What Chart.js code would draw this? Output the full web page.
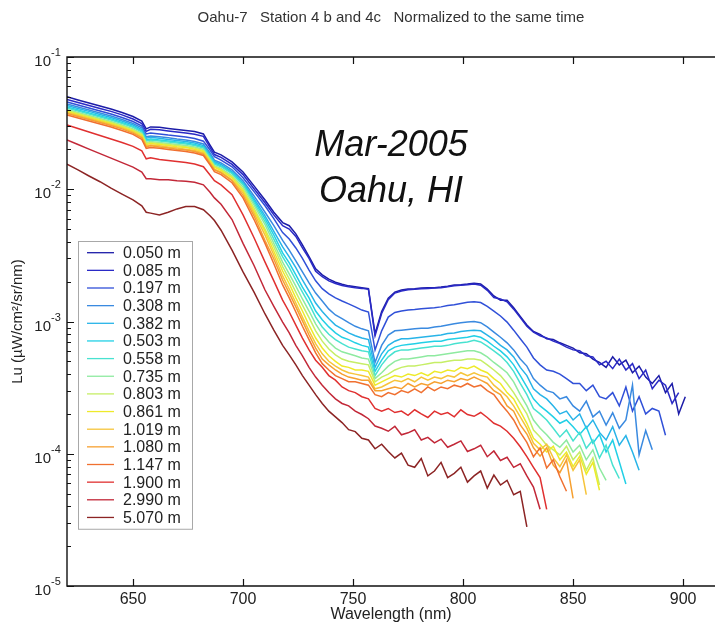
<!DOCTYPE html>
<html>
<head>
<meta charset="utf-8">
<title>Oahu-7 upwelling radiance profile</title>
<script src="https://cdn.jsdelivr.net/npm/chart.js@4.4.1/dist/chart.umd.min.js"></script>
<style>
  html, body { margin: 0; padding: 0; background: #ffffff; }
  #wrap { width: 715px; height: 624px; }
</style>
</head>
<body>
<div id="wrap"><canvas id="chart" width="715" height="624"></canvas></div>
<script>
// Wavelength grid (nm) shared by all spectra
const wavelengths = [620,625,630,635,640,645,650,654,656,658,662,666,670,674,678,682,685,687,690,695,700,705,710,714,718,721,724,727,730,733,736,739,
  742,745,748,751,754,757,760,763,766,769,772,775,778,781,784,787,790,793,796,799,802,805,808,811,814,817,820,823,826,829,832,835,838,841,844,847,850,853,856,859,862,865,868,871,874,877,880,883,886,889,892,895,898,901];

// Sensor depths (legend entries)
const depthLabels = ['0.050 m','0.085 m','0.197 m','0.308 m','0.382 m','0.503 m','0.558 m','0.735 m','0.803 m','0.861 m','1.019 m','1.080 m','1.147 m','1.900 m','2.990 m','5.070 m'];

// Lu (uW/cm^2/sr/nm) per depth, one value per wavelength until the spectrum ends
const lu0050 = [0.0500,0.0473,0.0449,0.0426,0.0405,0.0381,0.0355,0.0328,0.0286,0.0296,0.0294,0.0288,0.0283,0.0278,0.0273,0.0262,0.0216,0.0191,0.0182,0.0161,0.0135,0.0106,0.0083,0.0067,0.0056,0.0053,0.0046,0.0038,0.0031,0.0025,0.00225,0.00209,
  0.00198,0.00191,0.00186,0.00183,0.00180,0.00177,0.00081,0.00119,0.00150,0.00167,0.00173,0.00176,0.00177,0.00179,0.00180,0.00180,0.00182,0.00185,0.00189,0.00190,0.00192,0.00195,0.00192,0.00176,0.00156,0.00145,0.00145,0.00127,0.00109,0.00094,0.00084,0.00080,0.00074,0.00073,0.00069,0.00066,0.00063,0.00058,0.00057,0.00052,0.00049,0.00045,0.00054,0.00047,0.00051,0.00041,0.00046,0.00038,0.00034,0.00039,0.00029,0.00034,0.00020,0.00027];
const lu0085 = [0.0478,0.0453,0.0430,0.0408,0.0388,0.0365,0.0340,0.0314,0.0274,0.0284,0.0282,0.0276,0.0271,0.0266,0.0261,0.0251,0.0207,0.0183,0.0174,0.0154,0.0129,0.0101,0.0079,0.0064,0.0053,0.0050,0.0044,0.0036,0.0030,0.0024,0.00218,0.00203,
  0.00194,0.00187,0.00183,0.00180,0.00178,0.00175,0.00078,0.00115,0.00146,0.00164,0.00170,0.00174,0.00175,0.00177,0.00178,0.00179,0.00180,0.00183,0.00186,0.00188,0.00190,0.00192,0.00188,0.00172,0.00152,0.00148,0.00141,0.00124,0.00107,0.00092,0.00083,0.00078,0.00075,0.00071,0.00068,0.00064,0.00061,0.00060,0.00055,0.00054,0.00047,0.00050,0.00044,0.00052,0.00043,0.00048,0.00037,0.00043,0.00031,0.00036,0.00033,0.00024,0.00029];
const lu0197 = [0.0457,0.0434,0.0412,0.0391,0.0371,0.0349,0.0325,0.0301,0.0262,0.0266,0.0262,0.0257,0.0253,0.0248,0.0242,0.0231,0.0198,0.0176,0.0166,0.0148,0.0122,0.0096,0.0075,0.0060,0.0047,0.0042,0.0036,0.0030,0.00245,0.00203,0.00177,0.00162,
  0.00151,0.00143,0.00136,0.00129,0.00122,0.00118,0.00061,0.00085,0.00108,0.00117,0.00120,0.00122,0.00123,0.00125,0.00126,0.00127,0.00129,0.00132,0.00134,0.00137,0.00140,0.00141,0.00139,0.00130,0.00120,0.00110,0.00099,0.00086,0.00074,0.00064,0.00053,0.00047,0.00043,0.00042,0.00040,0.00037,0.00034,0.00034,0.00030,0.00033,0.00027,0.00026,0.00029,0.00023,0.00032,0.00021,0.00027,0.00020,0.00022,0.00021,0.000138];
const lu0308 = [0.0441,0.0419,0.0397,0.0377,0.0358,0.0337,0.0314,0.0291,0.0249,0.0253,0.0249,0.0245,0.0240,0.0236,0.0230,0.0220,0.0188,0.0166,0.0158,0.0140,0.0116,0.0089,0.0067,0.0053,0.0041,0.00347,0.00287,0.00237,0.00196,0.00164,0.00143,0.00124,
  0.00112,0.00105,0.00098,0.00092,0.00088,0.00085,0.00049,0.00066,0.00079,0.00085,0.00086,0.00087,0.00088,0.00089,0.00089,0.00091,0.00092,0.00094,0.00096,0.00098,0.00099,0.00100,0.00098,0.00091,0.00083,0.00076,0.00069,0.00061,0.00052,0.00046,0.00037,0.00033,0.00030,0.00029,0.00026,0.00027,0.00023,0.00021,0.00025,0.00019,0.00021,0.000165,0.000204,0.000156,0.00018,0.00033,0.000098,0.00015,0.000107];
const lu0382 = [0.0430,0.0408,0.0388,0.0368,0.0349,0.0328,0.0306,0.0283,0.0243,0.0247,0.0243,0.0238,0.0234,0.0230,0.0224,0.0214,0.0182,0.0162,0.0154,0.0136,0.0112,0.0085,0.0063,0.0048,0.00366,0.00308,0.00255,0.00206,0.00170,0.00138,0.00119,0.00105,
  0.00094,0.00088,0.00082,0.00078,0.00075,0.00073,0.00045,0.00057,0.00066,0.00071,0.00074,0.00074,0.00075,0.00076,0.00077,0.00078,0.00079,0.00081,0.00082,0.00084,0.00085,0.00086,0.00085,0.00079,0.00073,0.00066,0.00061,0.00054,0.00045,0.00039,0.00031,0.00028,0.00026,0.00023,0.00020,0.00021,0.00018,0.00020,0.000156,0.00018,0.000145,0.000127,0.00016,0.000116,0.000137,0.000103,0.000075];
const lu0503 = [0.0419,0.0397,0.0377,0.0358,0.0340,0.0320,0.0299,0.0276,0.0236,0.0240,0.0236,0.0232,0.0228,0.0224,0.0218,0.0209,0.0177,0.0158,0.0150,0.0133,0.0110,0.0082,0.0060,0.00451,0.00330,0.00278,0.00225,0.00182,0.00151,0.00120,0.00103,0.00091,
  0.00082,0.00076,0.00073,0.00069,0.00066,0.00064,0.00042,0.00051,0.00060,0.00064,0.00066,0.00067,0.00068,0.00069,0.00070,0.00071,0.00071,0.00073,0.00074,0.00075,0.00076,0.00078,0.00076,0.00071,0.00065,0.00060,0.00054,0.00047,0.00039,0.00032,0.00026,0.00023,0.00021,0.00019,0.00017,0.00018,0.00016,0.00014,0.00016,0.00012,0.00014,0.000103,0.000127,0.000087,0.000059];
const lu0558 = [0.0412,0.0391,0.0371,0.0352,0.0334,0.0314,0.0294,0.0271,0.0232,0.0236,0.0232,0.0228,0.0224,0.0220,0.0214,0.0205,0.0174,0.0155,0.0148,0.0131,0.0108,0.0079,0.0057,0.0042,0.00308,0.00255,0.00206,0.00167,0.00136,0.00108,0.00091,0.00080,
  0.00073,0.00068,0.00064,0.00062,0.00060,0.00059,0.00039,0.00047,0.00054,0.00059,0.00061,0.00061,0.00062,0.00063,0.00064,0.00065,0.00065,0.00066,0.00068,0.00069,0.00070,0.00072,0.00070,0.00065,0.00060,0.00055,0.00049,0.00042,0.00034,0.00028,0.00022,0.00020,0.00018,0.000156,0.000134,0.000151,0.000125,0.000145,0.00011,0.000127,0.000093,0.000116,0.000082,0.000065];
const lu0735 = [0.0401,0.0381,0.0361,0.0343,0.0325,0.0306,0.0286,0.0264,0.0226,0.0230,0.0226,0.0222,0.0218,0.0214,0.0209,0.0200,0.0169,0.0151,0.0144,0.0127,0.0104,0.0076,0.0054,0.0039,0.00281,0.00229,0.00185,0.00148,0.00120,0.00096,0.00080,0.00070,
  0.00063,0.00059,0.00057,0.00055,0.00053,0.00052,0.00037,0.00041,0.00046,0.00050,0.00052,0.00052,0.00053,0.00054,0.00055,0.00055,0.00056,0.00057,0.00058,0.00059,0.00060,0.00060,0.00058,0.00054,0.00049,0.00045,0.00041,0.00035,0.00028,0.00023,0.00018,0.000156,0.000139,0.000122,0.000112,0.000127,0.000103,0.000116,0.00009,0.000107,0.000078,0.000063];
const lu0803 = [0.0394,0.0374,0.0355,0.0337,0.0320,0.0301,0.0281,0.0260,0.0222,0.0226,0.0222,0.0218,0.0214,0.0210,0.0205,0.0196,0.0166,0.0149,0.0141,0.0124,0.0100,0.0072,0.0050,0.00366,0.00260,0.00210,0.00167,0.00133,0.00107,0.00085,0.00071,0.00062,
  0.00056,0.00052,0.00050,0.00049,0.00048,0.00047,0.00035,0.00038,0.00040,0.00043,0.00045,0.00046,0.00046,0.00047,0.00048,0.00049,0.00049,0.00050,0.00051,0.00051,0.00052,0.00052,0.00051,0.00047,0.00043,0.00039,0.00034,0.00029,0.00024,0.00020,0.000151,0.000134,0.000116,0.000107,0.000098,0.000114,0.00009,0.000103,0.000075,0.000093,0.000058];
const lu0861 = [0.0388,0.0368,0.0349,0.0331,0.0314,0.0296,0.0276,0.0255,0.0218,0.0222,0.0218,0.0214,0.0210,0.0207,0.0201,0.0193,0.0163,0.0146,0.0139,0.0122,0.0097,0.0069,0.0048,0.0034,0.00241,0.00193,0.00151,0.00120,0.00094,0.00075,0.00063,0.00055,
  0.00050,0.00046,0.00045,0.00043,0.00043,0.00042,0.00033,0.00035,0.00037,0.00039,0.00038,0.00040,0.00039,0.00041,0.00039,0.00042,0.00041,0.00043,0.00042,0.00045,0.00044,0.00046,0.00043,0.00041,0.00037,0.00034,0.00029,0.00026,0.00021,0.00017,0.000131,0.000118,0.000103,0.000114,0.00009,0.000103,0.00008,0.000096,0.00007,0.000086,0.000053];
const lu1019 = [0.0381,0.0361,0.0343,0.0325,0.0309,0.0291,0.0271,0.0249,0.0213,0.0216,0.0213,0.0209,0.0205,0.0201,0.0196,0.0188,0.0159,0.0142,0.0135,0.0118,0.0094,0.0066,0.0045,0.00318,0.00221,0.00176,0.00138,0.00108,0.00085,0.00068,0.00057,0.00050,
  0.00046,0.00043,0.00041,0.00040,0.00039,0.00038,0.00031,0.00032,0.00034,0.00036,0.00035,0.00037,0.00035,0.00038,0.00036,0.00038,0.00037,0.00039,0.00038,0.00041,0.00039,0.00041,0.00039,0.00038,0.00033,0.00030,0.00027,0.00023,0.00019,0.000156,0.00012,0.000107,0.000118,0.000093,0.00008,0.000098,0.000075,0.00009,0.000049];
const lu1080 = [0.0374,0.0355,0.0337,0.0320,0.0303,0.0286,0.0266,0.0245,0.0209,0.0213,0.0209,0.0205,0.0201,0.0198,0.0193,0.0184,0.0156,0.0140,0.0133,0.0116,0.0090,0.0063,0.0041,0.00297,0.00206,0.00164,0.00129,0.00101,0.00079,0.00063,0.00052,0.00047,
  0.00043,0.00040,0.00038,0.00037,0.00036,0.00036,0.00030,0.00030,0.00031,0.00032,0.00031,0.00034,0.00032,0.00034,0.00033,0.00035,0.00034,0.00036,0.00035,0.00037,0.00036,0.00038,0.00036,0.00034,0.00030,0.00028,0.00023,0.00021,0.000165,0.000141,0.000111,0.000096,0.000111,0.000082,0.000072,0.00009,0.000046];
const lu1147 = [0.0364,0.0346,0.0328,0.0311,0.0296,0.0278,0.0260,0.0238,0.0204,0.0207,0.0204,0.0200,0.0196,0.0193,0.0188,0.0180,0.0153,0.0136,0.0129,0.0112,0.0086,0.0059,0.0039,0.00273,0.00189,0.00151,0.00118,0.00092,0.00073,0.00058,0.00048,0.00043,
  0.00039,0.00037,0.00035,0.00035,0.00034,0.00033,0.00028,0.00027,0.00029,0.00028,0.00030,0.00029,0.00031,0.00029,0.00032,0.00030,0.00032,0.00031,0.00033,0.00032,0.00034,0.00032,0.00033,0.00030,0.00028,0.00024,0.00021,0.00018,0.000145,0.000122,0.000095,0.000111,0.000078,0.00009,0.000067,0.000052];
const lu1900 = [0.0306,0.0288,0.0271,0.0255,0.0240,0.0226,0.0211,0.0195,0.0170,0.0173,0.0168,0.0165,0.0162,0.0159,0.0155,0.0148,0.0128,0.0116,0.0108,0.0091,0.0064,0.0043,0.00281,0.00203,0.00145,0.00118,0.00094,0.00075,0.00061,0.00051,0.00045,0.00039,
  0.00036,0.00032,0.00030,0.00029,0.00027,0.00026,0.00022,0.00021,0.00022,0.000205,0.00021,0.000195,0.000215,0.00020,0.000188,0.00021,0.000198,0.000205,0.00019,0.000215,0.000198,0.000192,0.000205,0.000188,0.00017,0.000162,0.000148,0.000131,0.000113,0.000095,0.000079,0.000066,0.000038];
const lu2990 = [0.0236,0.0218,0.0201,0.0186,0.0172,0.0159,0.0147,0.0135,0.0120,0.0120,0.0118,0.0118,0.0116,0.0115,0.0113,0.0108,0.0095,0.0086,0.0077,0.0059,0.0039,0.00265,0.00173,0.00130,0.00099,0.00082,0.00066,0.00055,0.00045,0.00038,0.00033,0.00029,
  0.00026,0.00024,0.00023,0.00021,0.000198,0.000184,0.000162,0.000156,0.000148,0.000161,0.000139,0.000144,0.000152,0.000127,0.000133,0.000121,0.000129,0.000112,0.000118,0.000125,0.000104,0.000109,0.000116,0.000095,0.000105,0.000089,0.000094,0.000079,0.000084,0.000068,0.000056,0.000038];
const lu5070 = [0.0155,0.0140,0.0126,0.0114,0.0102,0.0092,0.0083,0.0075,0.0067,0.0066,0.0064,0.0067,0.0071,0.0074,0.0074,0.0070,0.0063,0.0058,0.0049,0.00347,0.00237,0.00167,0.00114,0.00086,0.00066,0.00056,0.00047,0.00039,0.00033,0.00028,0.00024,0.00021,
  0.00019,0.000172,0.000152,0.000147,0.000131,0.000127,0.000109,0.000118,0.000104,0.000093,0.000101,0.000082,0.000079,0.000092,0.000068,0.000074,0.000086,0.000066,0.000071,0.000079,0.000061,0.000068,0.000074,0.000055,0.000069,0.000058,0.000063,0.000049,0.000052,0.000028];

const spectra = [lu0050, lu0085, lu0197, lu0308, lu0382, lu0503, lu0558, lu0735, lu0803, lu0861, lu1019, lu1080, lu1147, lu1900, lu2990, lu5070];

// Axis ticks
const xTickValues = [650, 700, 750, 800, 850, 900];
const yExponents = [-5, -4, -3, -2, -1];

// Jet-like colour ramp, shallow (blue) to deep (brown)
const lineColors = ['#1c1ca8','#2a2ac6','#3050d8','#3a8ae0','#28b4e8','#22d0e6','#48e2d0','#8eeaa0',
                    '#c6ee66','#eeea2a','#f6c43a','#f6a030','#f07030','#e03030','#c22838','#8c2424'];

const FONT = '"Liberation Sans", Arial, Helvetica, sans-serif';
Chart.defaults.font.family = FONT;
Chart.defaults.color = '#222';

// Box, inward tick marks and 10^n labels on the log axis
const axesFrame = {
  id: 'axesFrame',
  afterDatasetsDraw(chart) {
    const { ctx, chartArea: a, scales: { x, y } } = chart;
    ctx.save();
    ctx.strokeStyle = '#111';
    ctx.lineWidth = 1.4;
    ctx.beginPath();
    ctx.moveTo(a.right, a.top); ctx.lineTo(a.left, a.top);
    ctx.lineTo(a.left, a.bottom); ctx.lineTo(a.right, a.bottom);
    ctx.stroke();

    ctx.lineWidth = 1.2;
    ctx.beginPath();
    xTickValues.forEach(v => {
      const px = Math.round(x.getPixelForValue(v)) + 0.5;
      ctx.moveTo(px, a.bottom); ctx.lineTo(px, a.bottom - 7);
      ctx.moveTo(px, a.top); ctx.lineTo(px, a.top + 7);
    });
    yExponents.forEach(e => {
      for (let m = 1; m <= 9; m++) {
        const v = m * Math.pow(10, e);
        if (v > y.max * 1.0001) break;
        const py = Math.round(y.getPixelForValue(v)) + 0.5;
        const len = m === 1 ? 7 : 4;
        ctx.moveTo(a.left, py); ctx.lineTo(a.left + len, py);
      }
    });
    ctx.stroke();

    ctx.fillStyle = '#222';
    yExponents.forEach(e => {
      const py = y.getPixelForValue(Math.pow(10, e));
      ctx.font = '15px ' + FONT;
      ctx.textAlign = 'right';
      ctx.textBaseline = 'alphabetic';
      ctx.fillText('10', 51, py + 9);
      ctx.font = '11px ' + FONT;
      ctx.textAlign = 'left';
      ctx.fillText('-' + Math.abs(e), 51, py - 1);
    });
    ctx.restore();
  }
};

// Boxed legend inside the plot, one row per depth
const depthLegend = {
  id: 'depthLegend',
  afterDraw(chart) {
    const { ctx, chartArea: a } = chart;
    const left = a.left + 11, top = a.top + 184, width = 114;
    const rowStep = 17.65, firstRow = top + 11.7;
    const sets = chart.data.datasets;
    const height = (sets.length - 1) * rowStep + 23;
    ctx.save();
    ctx.fillStyle = '#fff';
    ctx.fillRect(left, top, width, height);
    ctx.strokeStyle = '#a8a8a8';
    ctx.lineWidth = 1;
    ctx.strokeRect(left + 0.5, top + 0.5, width, height);
    ctx.font = '16px ' + FONT;
    ctx.textBaseline = 'middle';
    ctx.textAlign = 'left';
    sets.forEach((ds, i) => {
      const ry = firstRow + i * rowStep;
      ctx.strokeStyle = ds.borderColor;
      ctx.lineWidth = 1.3;
      ctx.beginPath();
      ctx.moveTo(left + 9, ry); ctx.lineTo(left + 36, ry);
      ctx.stroke();
      ctx.fillStyle = '#222';
      ctx.fillText(ds.label, left + 45, ry + 1);
    });
    ctx.restore();
  }
};

// Date / place note in the upper middle of the plot
const siteNote = {
  id: 'siteNote',
  afterDraw(chart) {
    const { ctx } = chart;
    ctx.save();
    ctx.fillStyle = '#111';
    ctx.font = 'italic 36px ' + FONT;
    ctx.textAlign = 'center';
    ctx.textBaseline = 'alphabetic';
    ctx.fillText('Mar-2005', 391, 156);
    ctx.fillText('Oahu, HI', 391, 202);
    ctx.restore();
  }
};

const datasets = spectra.map((vals, i) => ({
  label: depthLabels[i],
  data: vals.map((v, j) => ({ x: wavelengths[j], y: v })),
  borderColor: lineColors[i],
  backgroundColor: lineColors[i],
  borderWidth: 1.5,
  pointRadius: 0,
  tension: 0,
  fill: false,
  order: spectra.length - i
}));

new Chart(document.getElementById('chart'), {
  type: 'line',
  data: { datasets },
  options: {
    responsive: false,
    animation: false,
    devicePixelRatio: 1,
    layout: { padding: { left: 0, top: 0, right: 0, bottom: 0 } },
    plugins: {
      legend: { display: false },
      tooltip: { enabled: false },
      title: {
        display: true,
        fullSize: false,
        text: 'Oahu-7   Station 4 b and 4c   Normalized to the same time',
        color: '#333',
        font: { size: 15, weight: 'normal', family: FONT },
        padding: { top: 9, bottom: 30 }
      }
    },
    scales: {
      x: {
        type: 'linear',
        min: 620,
        max: 914.5,
        grid: { display: false, drawTicks: false },
        border: { display: false },
        afterBuildTicks: s => { s.ticks = xTickValues.map(v => ({ value: v })); },
        ticks: { font: { size: 16 }, color: '#222', padding: 4, maxRotation: 0, autoSkip: false },
        title: { display: true, text: 'Wavelength (nm)', font: { size: 16 }, color: '#222', padding: { top: 0, bottom: 0 } },
        afterFit: s => { s.height = 38; }
      },
      y: {
        type: 'logarithmic',
        min: 1e-5,
        max: 1e-1,
        grid: { display: false, drawTicks: false },
        border: { display: false },
        ticks: { display: false },
        title: { display: true, text: 'Lu (µW/cm²/sr/nm)', font: { size: 15 }, color: '#222', padding: { top: 9, bottom: 0 } },
        afterFit: s => { s.width = 67; }
      }
    }
  },
  plugins: [axesFrame, depthLegend, siteNote]
});
</script>
</body>
</html>
